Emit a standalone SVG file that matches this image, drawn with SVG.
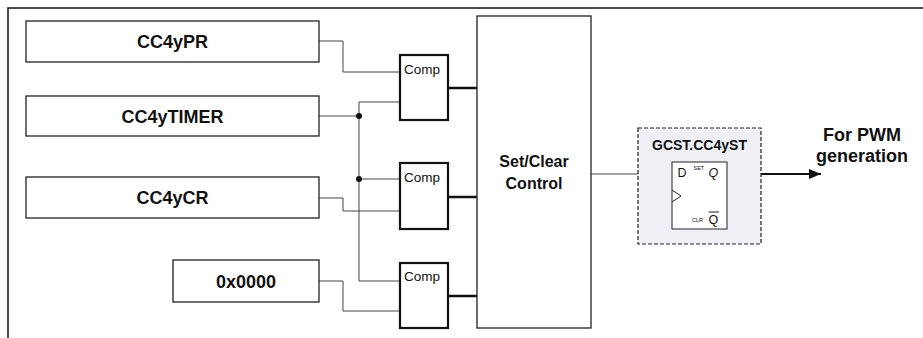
<svg xmlns="http://www.w3.org/2000/svg" width="923" height="338" viewBox="0 0 923 338">
<style>
.box{fill:#fff;stroke:#222;stroke-width:1.3}
.comp{fill:#fff;stroke:#111;stroke-width:2.2}
.lbl{font-family:"Liberation Sans",Arial,sans-serif;font-weight:bold;font-size:18px;fill:#111;text-anchor:middle}
.ctl{font-family:"Liberation Sans",Arial,sans-serif;font-weight:bold;font-size:16px;fill:#111;text-anchor:middle}
.ct{font-family:"Liberation Sans",Arial,sans-serif;font-size:13.5px;fill:#111}
.ff{font-family:"Liberation Sans",Arial,sans-serif;font-size:12.5px;fill:#111}
.tiny{font-family:"Liberation Sans",Arial,sans-serif;font-size:5.5px;fill:#111}
.thin{fill:none;stroke:#444;stroke-width:1}
.thick{fill:none;stroke:#111;stroke-width:2.5}
</style>
<defs>
<marker id="arr" markerWidth="12" markerHeight="10" refX="12" refY="5" orient="auto" markerUnits="userSpaceOnUse">
<path d="M0,0 L12,5 L0,10 Z" fill="#111"/>
</marker>
</defs>
<path d="M8,338 V8 H923" fill="none" stroke="#111" stroke-width="1.5"/>

<g id="connectors">
<path class="thin" d="M319,41 H343 V72 H400"/>
<path class="thin" d="M319,116 H359"/>
<path class="thin" d="M359,116 V102 H400"/>
<path class="thin" d="M359,116 V281 H400"/>
<path class="thin" d="M359,179 H400"/>
<path class="thin" d="M319,198 H343 V211 H400"/>
<path class="thin" d="M319,281 H343 V311 H400"/>
<circle cx="359" cy="116" r="3" fill="#111"/>
<circle cx="359" cy="179" r="3" fill="#111"/>
<path class="thick" d="M448,88 H477"/>
<path class="thick" d="M448,197 H477"/>
<path class="thick" d="M448,296 H477"/>
<path class="thin" d="M591,174 H672"/>
<path fill="none" stroke="#111" stroke-width="1.8" d="M727,174 H821" marker-end="url(#arr)"/>
</g>

<g id="pr"><rect class="box" x="26" y="21" width="293" height="41"/><text class="lbl" x="172.5" y="48">CC4yPR</text></g>
<g id="timer"><rect class="box" x="26" y="96" width="293" height="40"/><text class="lbl" x="172.5" y="122.5">CC4yTIMER</text></g>
<g id="cr"><rect class="box" x="26" y="177" width="293" height="41"/><text class="lbl" x="172.5" y="204">CC4yCR</text></g>
<g id="zero"><rect class="box" x="173" y="260" width="146" height="42"/><text class="lbl" x="246" y="287.5">0x0000</text></g>

<g id="comp1"><rect class="comp" x="400" y="55" width="48" height="65"/><text class="ct" x="404" y="74">Comp</text></g>
<g id="comp2"><rect class="comp" x="400" y="163" width="48" height="66"/><text class="ct" x="404" y="182">Comp</text></g>
<g id="comp3"><rect class="comp" x="400" y="263" width="48" height="65"/><text class="ct" x="404" y="281">Comp</text></g>

<g id="setclear"><rect class="box" x="477" y="16" width="114" height="312"/>
<text class="ctl" x="534" y="167">Set/Clear</text><text class="ctl" x="534" y="189">Control</text></g>

<g id="gcst">
<rect x="638" y="128" width="123" height="116" fill="#eef0f5" stroke="#222" stroke-width="1.2" stroke-dasharray="4,2"/>
<text x="699.5" y="150" font-family="Liberation Sans, Arial, sans-serif" font-weight="bold" font-size="14" fill="#111" text-anchor="middle">GCST.CC4yST</text>
<rect x="672" y="162" width="55" height="67" fill="#fff" stroke="#222" stroke-width="1"/>
<text class="ff" x="677.5" y="177">D</text>
<text class="tiny" x="693.5" y="170">SET</text>
<text class="ff" x="708.5" y="177" font-style="italic">Q</text>
<polyline points="672,190 681,196 672,202" fill="none" stroke="#222" stroke-width="1"/>
<text class="tiny" x="692" y="222">CLR</text>
<text class="ff" x="708.5" y="224">Q</text>
<line x1="708.5" y1="212" x2="719" y2="212" stroke="#222" stroke-width="1"/>
</g>

<g id="pwm">
<text class="lbl" x="862" y="141">For PWM</text>
<text class="lbl" x="862" y="162">generation</text>
</g>
</svg>
